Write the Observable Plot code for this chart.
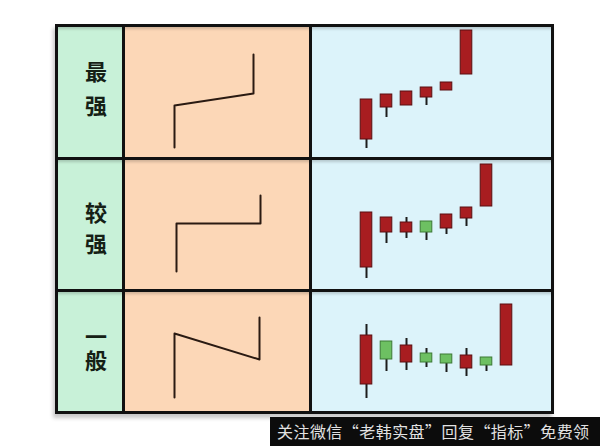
<!DOCTYPE html>
<html><head><meta charset="utf-8">
<script src="https://cdn.jsdelivr.net/npm/d3@7"></script>
<script src="https://cdn.jsdelivr.net/npm/@observablehq/plot@0.6"></script>
<style>
html,body{margin:0;padding:0;background:#fff;width:600px;height:446px;overflow:hidden;font-family:"Noto Sans CJK SC","Noto Sans",sans-serif;}
#table{position:absolute;left:55px;top:24px;width:493px;height:384px;padding:3px;background:#111;
 display:grid;grid-template-columns:64px 184px 239px;grid-template-rows:130px 129px 119px;gap:3px;
 box-shadow:-2px 4px 4px rgba(0,0,0,0.22);}
.cell{position:relative;overflow:hidden;box-shadow:inset 0 4px 3px -2px rgba(0,0,0,0.18);}
.lab{background:#c8f1d8;display:flex;align-items:center;justify-content:center;padding-left:12px;}
.lab span{font-size:22px;font-weight:bold;line-height:26px;color:#152015;writing-mode:vertical-rl;text-orientation:upright;}
.pea{background:#fcd7b7;}
.blu{background:#dcf3fa;}
.cell svg{display:block;}
#wm{position:absolute;left:270px;top:417px;width:330px;height:29px;background:#0c0c0c;color:#e2e2e2;
 font-size:16px;line-height:29px;white-space:nowrap;padding-left:7px;box-sizing:border-box;letter-spacing:0.45px;}
</style></head>
<body>
<div id="table"></div>
<div id="wm"></div>
<script>
const rowLabels = ["最强", "较强", "一般"];
const cellHeights = [130, 129, 119];

// schematic lines (x: position in the cell, y: level)
const lineX1 = [49, 49, 128, 128], lineY1 = [10, 52, 64, 103];
const lineX2 = [51, 51, 135, 135], lineY2 = [18, 66, 66, 94];
const lineX3 = [49, 49, 134, 134], lineY3 = [14, 78, 52, 94];

// candlesticks
const open1 = [18, 50, 52, 60, 67, 83];
const close1 = [58, 63, 66, 70, 75, 127];
const high1 = [58, 63, 66, 70, 75, 127];
const low1 = [9, 40, 52, 52, 67, 83];

const open2 = [22, 57, 57, 68, 61, 71, 83];
const close2 = [77, 72, 67, 57, 75, 82, 125];
const high2 = [77, 72, 72, 68, 75, 82, 125];
const low2 = [11, 46, 51, 49, 55, 63, 83];

const open3 = [27, 70, 49, 58, 57, 43, 54, 46];
const close3 = [76, 52, 66, 49, 48, 56, 46, 107];
const high3 = [87, 70, 73, 63, 57, 63, 54, 107];
const low3 = [13, 40, 41, 44, 39, 35, 40, 46];

const watermark = "关注微信“老韩实盘”回复“指标”免费领";

const lines = [[lineX1, lineY1], [lineX2, lineY2], [lineX3, lineY3]];
const candles = [[open1, close1, high1, low1], [open2, close2, high2, low2], [open3, close3, high3, low3]];
const labelGap = [12, 9, 2], labelShift = [-3, 4, -3];

const RED = "#a81d20", RED_S = "#5a0f10", GREEN = "#6dc062", GREEN_S = "#3c7a35";
const table = document.getElementById("table");

rowLabels.forEach((lab, r) => {
  const H = cellHeights[r];
  // label cell
  const c1 = document.createElement("div");
  c1.className = "cell lab";
  const sp = document.createElement("span");
  sp.textContent = lab;
  sp.style.letterSpacing = labelGap[r] + "px";
  // compensate trailing letter-spacing and apply vertical shift
  sp.style.marginBottom = (-labelGap[r] - 2 * labelShift[r]) + "px";
  c1.appendChild(sp);
  table.appendChild(c1);

  // schematic line cell
  const c2 = document.createElement("div");
  c2.className = "cell pea";
  const [lx, ly] = lines[r];
  const pts = lx.map((x, i) => ({x, y: ly[i]}));
  c2.appendChild(Plot.plot({
    width: 184, height: H, margin: 0,
    style: {background: "transparent"},
    x: {domain: [0, 184], axis: null},
    y: {domain: [0, H], axis: null},
    marks: [Plot.line(pts, {x: "x", y: "y", stroke: "#2a1a12", strokeWidth: 2, curve: "linear"})]
  }));
  table.appendChild(c2);

  // candlestick cell
  const c3 = document.createElement("div");
  c3.className = "cell blu";
  const [o, c, h, l] = candles[r];
  const data = o.map((v, i) => ({i, open: v, close: c[i], high: h[i], low: l[i], up: c[i] >= v}));
  c3.appendChild(Plot.plot({
    width: 239, height: H, margin: 0,
    style: {background: "transparent"},
    x: {domain: [-2.7, 9.25], axis: null},
    y: {domain: [0, H], axis: null},
    marks: [
      Plot.ruleX(data, {x: "i", y1: "low", y2: "high", stroke: "#1c1c1c", strokeWidth: 2}),
      Plot.rect(data, {
        x1: d => d.i - 0.29, x2: d => d.i + 0.29, y1: "open", y2: "close",
        fill: d => d.up ? RED : GREEN, stroke: d => d.up ? RED_S : GREEN_S, strokeWidth: 1
      })
    ]
  }));
  table.appendChild(c3);
});

document.getElementById("wm").textContent = watermark;
</script>
</body></html>
